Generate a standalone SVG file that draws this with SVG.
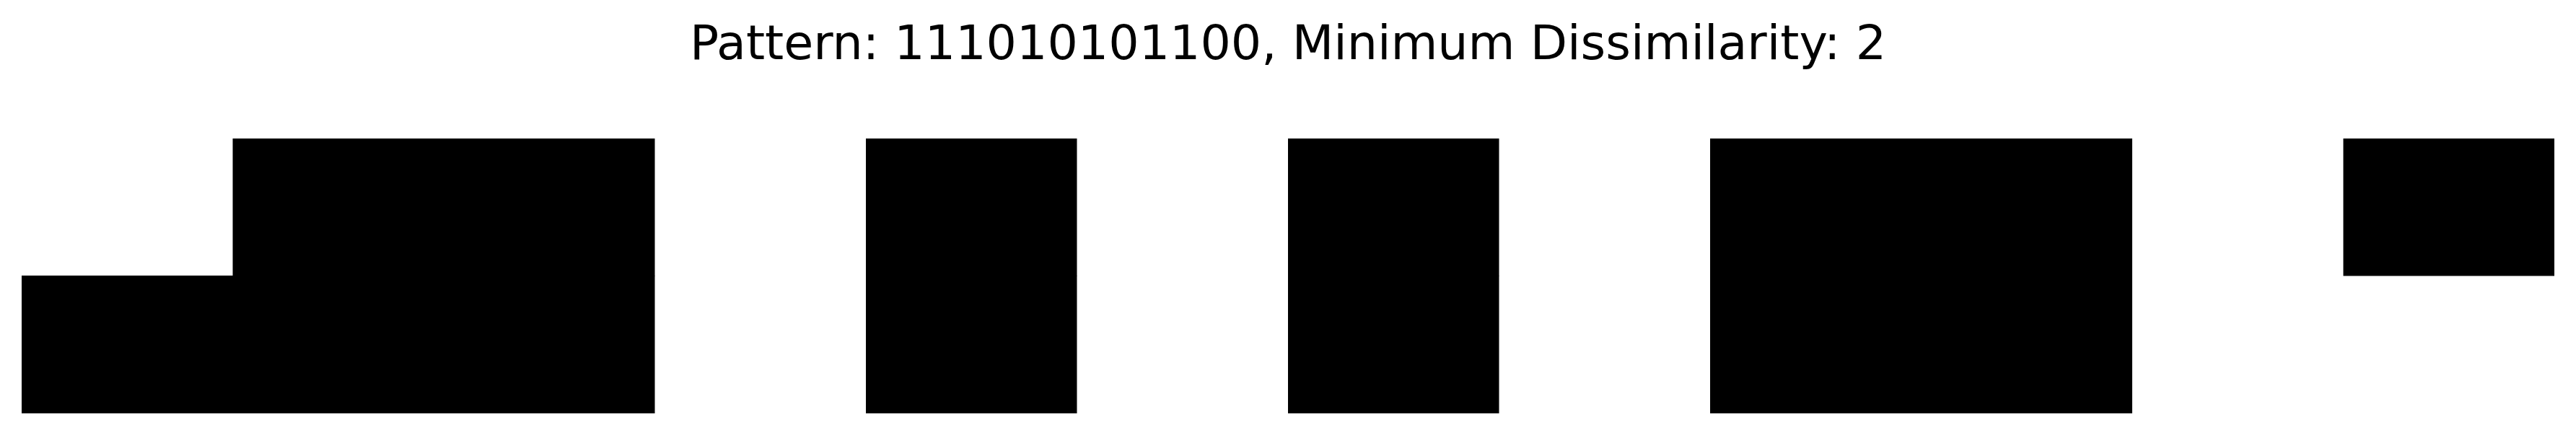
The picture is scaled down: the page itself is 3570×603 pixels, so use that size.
<svg xmlns="http://www.w3.org/2000/svg" width="3570" height="603" viewBox="0 0 3570 603">
<style>
.cell{fill:#000;}
.title{font-family:"DejaVu Sans",sans-serif;font-size:66.67px;fill:#000;}
</style>
<rect x="0" y="0" width="3570" height="603" fill="#fff"/>
<text class="title" x="1785" y="82" text-anchor="middle">Pattern: 111010101100, Minimum Dissimilarity: 2</text>
<g id="grid">
<g id="row0">
<rect class="cell" x="322.5" y="192" width="585" height="190.5"/>
<rect class="cell" x="1200" y="192" width="292.5" height="190.5"/>
<rect class="cell" x="1785" y="192" width="292.5" height="190.5"/>
<rect class="cell" x="2370" y="192" width="585" height="190.5"/>
<rect class="cell" x="3247.5" y="192" width="292.5" height="190.5"/>
</g>
<g id="row1">
<rect class="cell" x="30" y="382" width="877.5" height="191"/>
<rect class="cell" x="1200" y="382" width="292.5" height="191"/>
<rect class="cell" x="1785" y="382" width="292.5" height="191"/>
<rect class="cell" x="2370" y="382" width="585" height="191"/>
</g>
</g>
<g id="connectors"/>
</svg>
